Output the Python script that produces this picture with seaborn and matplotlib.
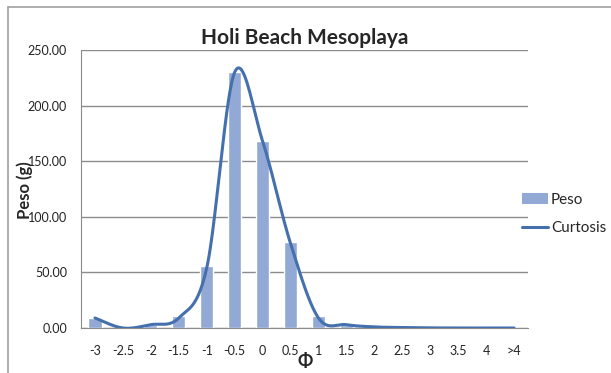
import numpy as np
import pandas as pd
import matplotlib
matplotlib.use("Agg")
import matplotlib.pyplot as plt
import seaborn as sns
from matplotlib.lines import Line2D
from matplotlib.patches import Patch

phi = ["-3", "-2.5", "-2", "-1.5", "-1", "-0.5", "0", "0.5", "1",
       "1.5", "2", "2.5", "3", "3.5", "4", ">4"]
peso = [9.0, 0.0, 3.0, 11.0, 56.0, 230.0, 168.0, 77.0, 11.0,
        3.0, 0.8, 0.3, 0.1, 0.0, 0.0, 0.0]
curtosis = [9.0, 0.0, 3.0, 9.0, 54.0, 230.0, 168.0, 76.0, 9.0,
            3.0, 1.0, 0.4, 0.1, 0.0, 0.0, 0.0]

bar_color = "#93A9D5"
line_color = "#4470AD"
grid_color = "#8C8C8C"
font = "Lato"


def excel_smooth(y, n=40):
    # Bezier smoothing like Excel's "smoothed line"
    y = np.asarray(y, float)
    x = np.arange(len(y), dtype=float)
    px = np.concatenate([[x[0]], x, [x[-1]]])
    py = np.concatenate([[y[0]], y, [y[-1]]])
    xs, ys = [], []
    t = np.linspace(0, 1, n)
    for i in range(len(y) - 1):
        p0 = np.array([px[i + 1], py[i + 1]])
        p3 = np.array([px[i + 2], py[i + 2]])
        c1 = p0 + (np.array([px[i + 2], py[i + 2]]) - np.array([px[i], py[i]])) / 6
        c2 = p3 - (np.array([px[i + 3], py[i + 3]]) - np.array([px[i + 1], py[i + 1]])) / 6
        b = ((1 - t) ** 3)[:, None] * p0 + (3 * (1 - t) ** 2 * t)[:, None] * c1 \
            + (3 * (1 - t) * t ** 2)[:, None] * c2 + (t ** 3)[:, None] * p3
        xs.append(b[:, 0])
        ys.append(b[:, 1])
    return np.concatenate(xs), np.concatenate(ys)


df = pd.DataFrame({"phi": phi, "peso": peso})

sns.set_style("white")
plt.rcParams["font.family"] = [font, "DejaVu Sans"]

fig = plt.figure(figsize=(6.11, 3.73), dpi=100)
ax = fig.add_axes([81 / 611, 1 - 328 / 373, 447 / 611, 278 / 373])

sns.barplot(data=df, x="phi", y="peso", color=bar_color, width=0.47,
            saturation=1, ax=ax, zorder=2)
sx, sy = excel_smooth(curtosis)
ax.plot(sx, sy, color=line_color, lw=2.2, zorder=3, solid_capstyle="round")

ax.set_ylim(0, 250)
ax.set_xlim(-0.5, len(phi) - 0.5)
ax.set_yticks(np.arange(0, 251, 50))
ax.set_yticklabels([f"{v:.2f}" for v in np.arange(0, 251, 50)])
ax.yaxis.grid(True, color=grid_color, lw=1)
ax.set_axisbelow(True)
ax.tick_params(axis="y", labelsize=9, length=4, color=grid_color, pad=6, labelcolor="#222222")
ax.tick_params(axis="x", labelsize=9, length=0, pad=12, labelcolor="#222222")
ax.set_xlabel("")
ax.set_ylabel("")
for s in ["top", "right"]:
    ax.spines[s].set_visible(False)
ax.spines["left"].set_color(grid_color)
ax.spines["bottom"].set_color(grid_color)

fig.text(305 / 611, 1 - 38 / 373, "Holi Beach Mesoplaya", ha="center", va="center",
         fontsize=15, fontweight="bold")
fig.text(25 / 611, 1 - 190 / 373, "Peso (g)", ha="center", va="center",
         rotation=90, fontsize=12, fontweight="bold")
fig.text(305 / 611, 1 - 362 / 373, "Φ", ha="center", va="center",
         fontsize=13, fontweight="bold")

handles = [Patch(facecolor=bar_color, edgecolor="none"),
           Line2D([0], [0], color=line_color, lw=2.2)]
fig.legend(handles, ["Peso", "Curtosis"], loc="center left",
           bbox_to_anchor=(508 / 611, 1 - 214 / 373), frameon=False,
           fontsize=11, handlelength=1.7, handletextpad=0.2, labelspacing=0.9)

# outer frame (top and left edges visible)
fig.add_artist(Line2D([8 / 611, 1], [1 - 7 / 373, 1 - 7 / 373], color="#A0A0A0", lw=1.2))
fig.add_artist(Line2D([8 / 611, 8 / 611], [0, 1 - 7 / 373], color="#A0A0A0", lw=1.2))

fig.savefig("out.png", dpi=100)
